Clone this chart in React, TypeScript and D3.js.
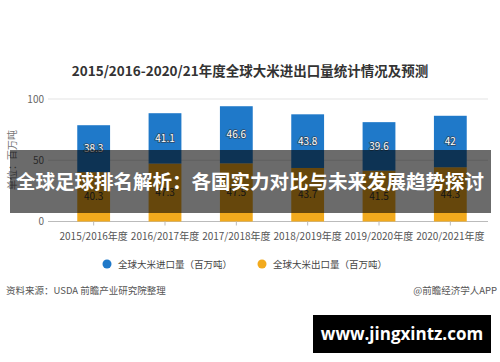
import { useEffect, useRef } from "react";
import * as d3 from "d3";

const YEARS = ["2015/2016年度", "2016/2017年度", "2017/2018年度", "2018/2019年度", "2019/2020年度", "2020/2021年度"];
const IMPORTS = [38.3, 41.1, 46.6, 43.8, 39.6, 42];
const EXPORTS = [40.3, 47.3, 47.5, 43.7, 41.5, 44.3];
const Y_TICKS = [0, 50, 100];
const SERIES = ["全球大米进口量（百万吨）", "全球大米出口量（百万吨）"];

const BLUE = "#1f79c9";
const ORANGE = "#f2aa1d";
const FONT = "'Noto Sans CJK SC', 'Noto Sans', sans-serif";

export default function App() {
  const ref = useRef<SVGSVGElement>(null);

  useEffect(() => {
    if (!ref.current) return;
    const w = 500;
    const h = 362;
    const svg = d3.select(ref.current);
    svg.selectAll("*").remove();
    svg.attr("width", w).attr("height", h).attr("viewBox", `0 0 ${w} ${h}`).style("font-family", FONT);

    svg.append("rect").attr("width", w).attr("height", h).attr("fill", "#fff");

    const x = d3.scaleBand().domain(YEARS).range([58, 486]).paddingInner(0.54).paddingOuter(0.27);
    const y = d3.scaleLinear().domain([0, 100]).range([221.5, 99]);

    // title
    svg
      .append("text")
      .attr("x", 250)
      .attr("y", 76)
      .attr("text-anchor", "middle")
      .attr("font-size", 13.5)
      .attr("font-weight", "bold")
      .attr("fill", "#333")
      .text("2015/2016-2020/21年度全球大米进出口量统计情况及预测");

    // grid + y labels
    Y_TICKS.forEach((t) => {
      svg
        .append("line")
        .attr("x1", 48)
        .attr("x2", 488)
        .attr("y1", y(t))
        .attr("y2", y(t))
        .attr("stroke", t === 0 ? "#bbb" : "#e3e3e3")
        .attr("stroke-width", 1);
      svg
        .append("text")
        .attr("x", 44)
        .attr("y", y(t) + 3.5)
        .attr("text-anchor", "end")
        .attr("font-size", 10)
        .attr("fill", "#666")
        .text(t);
    });

    svg
      .append("text")
      .attr("transform", `translate(16,${160}) rotate(-90)`)
      .attr("text-anchor", "middle")
      .attr("font-size", 10)
      .attr("fill", "#777")
      .text("单位：百万吨");

    // bars
    YEARS.forEach((yr, i) => {
      const x0 = x(yr)!;
      const bw = x.bandwidth();
      const ex = EXPORTS[i];
      const im = IMPORTS[i];
      svg.append("rect").attr("x", x0).attr("y", y(ex)).attr("width", bw).attr("height", y(0) - y(ex)).attr("fill", ORANGE);
      svg.append("rect").attr("x", x0).attr("y", y(ex + im)).attr("width", bw).attr("height", y(ex) - y(ex + im)).attr("fill", BLUE);
      svg
        .append("text")
        .attr("x", x0 + bw / 2)
        .attr("y", (y(ex + im) + y(ex)) / 2 + 3.5)
        .attr("text-anchor", "middle")
        .attr("font-size", 10)
        .attr("fill", "#fff")
        .attr("stroke", "#2b4a66")
        .attr("stroke-width", 1.6)
        .attr("paint-order", "stroke")
        .text(im);
      svg
        .append("text")
        .attr("x", x0 + bw / 2)
        .attr("y", (y(ex) + y(0)) / 2 + 3.5)
        .attr("text-anchor", "middle")
        .attr("font-size", 10)
        .attr("fill", "#333")
        .text(ex);
      svg
        .append("line")
        .attr("x1", x0 + bw / 2)
        .attr("x2", x0 + bw / 2)
        .attr("y1", y(0))
        .attr("y2", y(0) + 4)
        .attr("stroke", "#bbb");
      svg
        .append("text")
        .attr("x", x0 + bw / 2)
        .attr("y", 240)
        .attr("text-anchor", "middle")
        .attr("font-size", 10)
        .attr("fill", "#555")
        .text(yr);
    });

    // legend
    const legX = [107, 262];
    SERIES.forEach((s, i) => {
      svg.append("circle").attr("cx", legX[i]).attr("cy", 264).attr("r", 4.5).attr("fill", i === 0 ? BLUE : ORANGE);
      svg
        .append("text")
        .attr("x", legX[i] + 11)
        .attr("y", 267.5)
        .attr("font-size", 9.5)
        .attr("fill", "#444")
        .text(s);
    });

    // source
    svg.append("text").attr("x", 6).attr("y", 293.5).attr("font-size", 9.5).attr("fill", "#555").text("资料来源：USDA 前瞻产业研究院整理");
    svg
      .append("text")
      .attr("x", 497)
      .attr("y", 293.5)
      .attr("text-anchor", "end")
      .attr("font-size", 9.5)
      .attr("fill", "#555")
      .text("@前瞻经济学人APP");

    // overlay banner
    svg.append("rect").attr("x", 10).attr("y", 150).attr("width", 481).attr("height", 63).attr("fill", "rgba(0,0,0,0.58)");
    svg
      .append("text")
      .attr("x", 250)
      .attr("y", 189)
      .attr("text-anchor", "middle")
      .attr("font-size", 19.5)
      .attr("font-weight", "bold")
      .attr("fill", "#fff")
      .text("全球足球排名解析：各国实力对比与未来发展趋势探讨");

    // site box
    svg.append("rect").attr("x", 313).attr("y", 315).attr("width", 178).attr("height", 38).attr("fill", "#000");
    svg
      .append("text")
      .attr("x", 402)
      .attr("y", 340)
      .attr("text-anchor", "middle")
      .attr("font-size", 17)
      .attr("font-weight", "bold")
      .attr("font-family", "'Open Sans', 'DejaVu Sans', sans-serif")
      .attr("fill", "#fff")
      .text("www.jingxintz.com");
  }, []);

  return (
    <div style={{ position: "absolute", left: 0, top: 0 }}>
      <svg ref={ref} style={{ display: "block" }} />
    </div>
  );
}
